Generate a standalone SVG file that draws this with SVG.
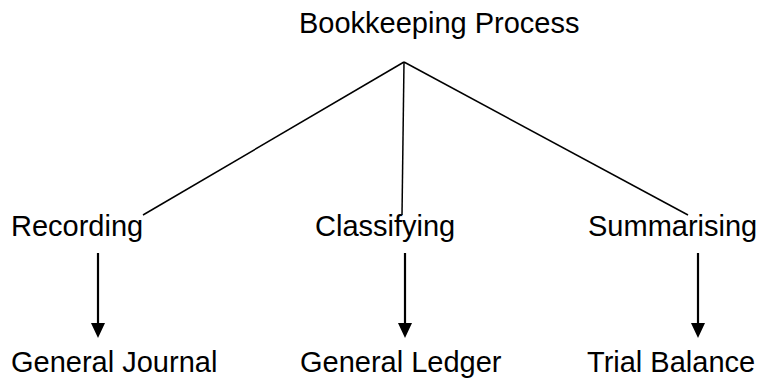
<svg xmlns="http://www.w3.org/2000/svg" width="761" height="378" viewBox="0 0 761 378">
  <style>
    .label { font-family: "Liberation Sans", Arial, sans-serif; font-size: 29px; fill: #000; }
    .branch { stroke: #000; stroke-width: 1.5; fill: none; }
    .flow { stroke: #000; stroke-width: 2.2; fill: none; }
    .head { fill: #000; }
  </style>
  <rect width="761" height="378" fill="#fff"/>

  <g id="connectors">
    <!-- tree branches from the root -->
    <line class="branch" x1="404" y1="62" x2="143" y2="215"/>
    <line class="branch" x1="404" y1="62" x2="402" y2="215"/>
    <line class="branch" x1="404" y1="62" x2="688" y2="215"/>
    <!-- downward arrows -->
    <line class="flow" x1="98" y1="253" x2="98" y2="325"/>
    <polygon class="head" points="91,323 105,323 98,338"/>
    <line class="flow" x1="405" y1="253" x2="405" y2="325"/>
    <polygon class="head" points="398,323 412,323 405,338"/>
    <line class="flow" x1="698" y1="253" x2="698" y2="325"/>
    <polygon class="head" points="691,323 705,323 698,338"/>
  </g>

  <g id="bookkeeping-process"><text class="label" x="299" y="33">Bookkeeping Process</text></g>
  <g id="recording"><text class="label" x="11" y="236">Recording</text></g>
  <g id="classifying"><text class="label" x="315" y="236">Classifying</text></g>
  <g id="summarising"><text class="label" x="588" y="236">Summarising</text></g>
  <g id="general-journal"><text class="label" x="11" y="372">General Journal</text></g>
  <g id="general-ledger"><text class="label" x="300" y="372">General Ledger</text></g>
  <g id="trial-balance"><text class="label" x="587" y="372">Trial Balance</text></g>
</svg>
